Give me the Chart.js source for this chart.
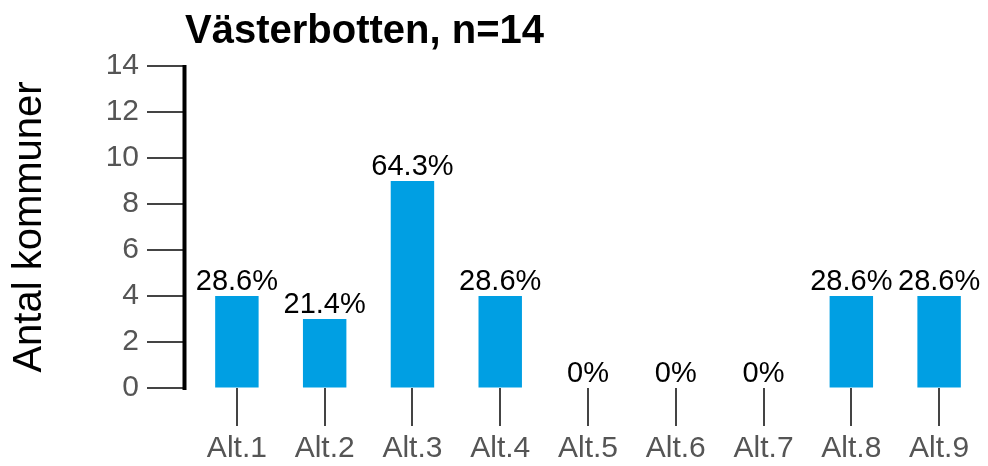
<!DOCTYPE html>
<html>
<head>
<meta charset="utf-8">
<script src="https://cdn.jsdelivr.net/npm/chart.js@4/dist/chart.umd.min.js"></script>
<style>
  html, body { margin: 0; padding: 0; background: #ffffff; }
  #wrap { width: 988px; height: 466px; }
</style>
</head>
<body>
<div id="wrap"><canvas id="c" width="988" height="466"></canvas></div>
<script>
const titleText = 'Västerbotten, n=14';
const yTitle = 'Antal kommuner';
const categories = ['Alt.1', 'Alt.2', 'Alt.3', 'Alt.4', 'Alt.5', 'Alt.6', 'Alt.7', 'Alt.8', 'Alt.9'];
const counts = [4, 3, 9, 4, 0, 0, 0, 4, 4];
const percentLabels = ['28.6%', '21.4%', '64.3%', '28.6%', '0%', '0%', '0%', '28.6%', '28.6%'];
const yTicks = [0, 2, 4, 6, 8, 10, 12, 14];

const FONT = "'Liberation Sans', Arial, Helvetica, sans-serif";

const decor = {
  id: 'decor',
  afterDraw(chart) {
    const ctx = chart.ctx;
    const y = chart.scales.y;
    const axisX = 184.5;
    ctx.save();
    ctx.strokeStyle = '#444444';
    ctx.lineWidth = 2;
    yTicks.forEach(v => {
      const py = Math.round(y.getPixelForValue(v));
      ctx.beginPath();
      ctx.moveTo(147, py);
      ctx.lineTo(axisX, py);
      ctx.stroke();
    });
    ctx.strokeStyle = '#000000';
    ctx.lineWidth = 4;
    ctx.beginPath();
    ctx.moveTo(axisX, y.getPixelForValue(yTicks[yTicks.length - 1]) - 1);
    ctx.lineTo(axisX, y.getPixelForValue(0) + 2);
    ctx.stroke();
    ctx.fillStyle = '#000000';
    ctx.font = "bold 40px " + FONT;
    ctx.textAlign = 'left';
    ctx.textBaseline = 'alphabetic';
    ctx.fillText(titleText, 185, 43);
    ctx.restore();
  },
  afterDatasetsDraw(chart) {
    const ctx = chart.ctx;
    const meta = chart.getDatasetMeta(0);
    ctx.save();
    ctx.fillStyle = '#000000';
    ctx.font = "29px " + FONT;
    ctx.textAlign = 'center';
    ctx.textBaseline = 'alphabetic';
    meta.data.forEach((bar, i) => {
      ctx.fillText(percentLabels[i], bar.x, bar.y - 6);
    });
    ctx.restore();
  }
};

new Chart(document.getElementById('c'), {
  type: 'bar',
  data: {
    labels: categories,
    datasets: [{
      data: counts,
      backgroundColor: '#009FE3',
      borderWidth: 0,
      barPercentage: 0.495,
      categoryPercentage: 1.0
    }]
  },
  options: {
    responsive: false,
    animation: false,
    layout: { padding: { top: 66, right: 5, left: 0, bottom: 0 } },
    plugins: {
      legend: { display: false },
      title: { display: false },
      tooltip: { enabled: false }
    },
    scales: {
      x: {
        offset: true,
        grid: {
          display: true,
          offset: false,
          drawOnChartArea: false,
          drawTicks: true,
          tickLength: 38,
          color: '#444444',
          lineWidth: 2
        },
        border: { display: false },
        ticks: {
          color: '#555555',
          font: { family: FONT, size: 30 },
          padding: 5,
          maxRotation: 0,
          autoSkip: false
        },
        afterFit(scale) { scale.height = 78; }
      },
      y: {
        min: 0,
        max: 14,
        afterBuildTicks(scale) { scale.ticks = yTicks.map(v => ({ value: v })); },
        grid: {
          display: true,
          drawOnChartArea: false,
          drawTicks: true,
          tickLength: 50,
          tickColor: 'rgba(0,0,0,0)'
        },
        border: { display: false },
        ticks: {
          color: '#555555',
          font: { family: FONT, size: 30 },
          padding: 4
        },
        title: {
          display: true,
          text: yTitle,
          color: '#000000',
          font: { family: FONT, size: 40 },
          padding: { top: 6, bottom: 0 }
        },
        afterFit(scale) { scale.width = 193; }
      }
    }
  },
  plugins: [decor]
});
</script>
</body>
</html>
